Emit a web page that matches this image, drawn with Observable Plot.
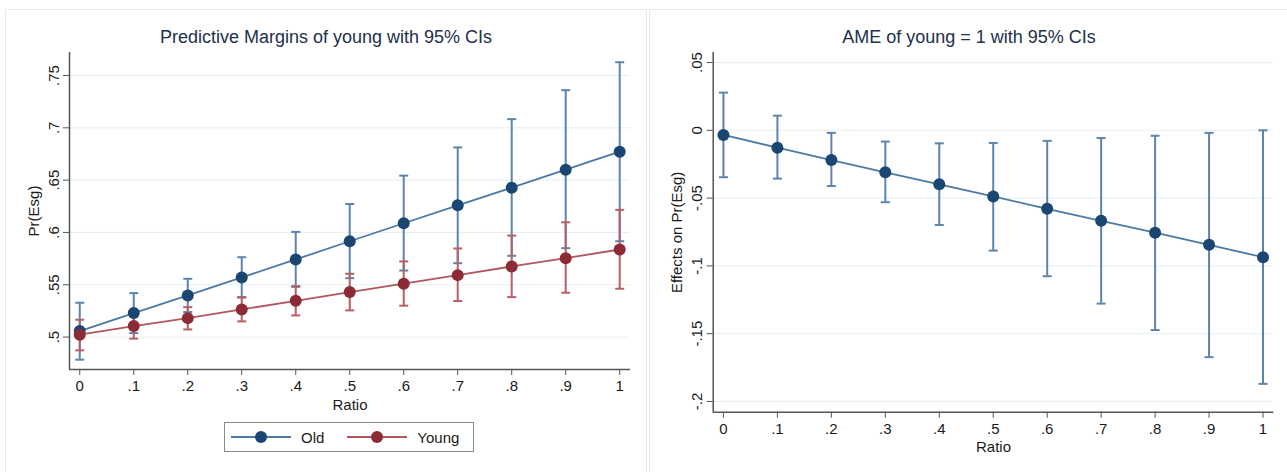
<!DOCTYPE html>
<html>
<head>
<meta charset="utf-8">
<script src="https://cdn.jsdelivr.net/npm/d3@7"></script>
<script src="https://cdn.jsdelivr.net/npm/@observablehq/plot@0.6"></script>
<style>
  html, body { margin: 0; padding: 0; background: #fff; }
  #root { position: relative; width: 1287px; height: 472px; overflow: hidden; background: #fff;
          font-family: "Liberation Sans", Arial, sans-serif; }
  .panel { position: absolute; border: 1px solid #e3e9ec; background: #fff; }
  .title { position: absolute; font-size: 18px; color: #22304c; white-space: nowrap; transform: translateX(-50%); }
  .chart { position: absolute; top: 0; }
  .legend { position: absolute; border: 1.5px solid #8a8a8a; box-sizing: border-box; display: flex; align-items: center;
            font-size: 15px; color: #1a1a1a; background: #fff; }
  .legend .item { display: flex; align-items: center; }
  .legend svg { display: block; }
</style>
</head>
<body>
<div id="root"></div>
<script>
// ---- data ----
const ratio = [0, 0.1, 0.2, 0.3, 0.4, 0.5, 0.6, 0.7, 0.8, 0.9, 1];

const oldMargin = [0.5057, 0.5229, 0.5398, 0.5570, 0.5742, 0.5916, 0.6088, 0.6259, 0.6428, 0.6600, 0.6772];
const oldHi     = [0.5328, 0.5420, 0.5557, 0.5763, 0.6005, 0.6272, 0.6543, 0.6813, 0.7083, 0.7360, 0.7627];
const oldLo     = [0.4784, 0.5038, 0.5239, 0.5377, 0.5480, 0.5563, 0.5636, 0.5706, 0.5777, 0.5850, 0.5916];

const youngMargin = [0.5023, 0.5105, 0.5181, 0.5264, 0.5347, 0.5430, 0.5510, 0.5592, 0.5675, 0.5754, 0.5837];
const youngHi     = [0.5166, 0.5225, 0.5286, 0.5382, 0.5487, 0.5605, 0.5723, 0.5847, 0.5970, 0.6097, 0.6216];
const youngLo     = [0.4873, 0.4985, 0.5073, 0.5150, 0.5207, 0.5255, 0.5300, 0.5344, 0.5382, 0.5424, 0.5462];

const ame   = [-0.0034, -0.0128, -0.0219, -0.0310, -0.0398, -0.0488, -0.0579, -0.0667, -0.0755, -0.0844, -0.0936];
const ameHi = [ 0.0278,  0.0108, -0.0019, -0.0083, -0.0096, -0.0093, -0.0078, -0.0057, -0.0040, -0.0019,  0.0000];
const ameLo = [-0.0346, -0.0356, -0.0411, -0.0530, -0.0698, -0.0887, -0.1076, -0.1278, -0.1473, -0.1673, -0.1870];

const xTicks = [0, 0.1, 0.2, 0.3, 0.4, 0.5, 0.6, 0.7, 0.8, 0.9, 1];
const leftYTicks = [0.5, 0.55, 0.6, 0.65, 0.7, 0.75];
const rightYTicks = [-0.2, -0.15, -0.1, -0.05, 0, 0.05];

const leftTitle = "Predictive Margins of young with 95% CIs";
const rightTitle = "AME of young = 1 with 95% CIs";
const xLabel = "Ratio";
const leftYLabel = "Pr(Esg)";
const rightYLabel = "Effects on Pr(Esg)";
const seriesNames = ["Old", "Young"];

// ---- styles ----
const FONT = '"Liberation Sans", Arial, sans-serif';
const BLUE_DOT = "#1a4672", BLUE_LINE = "#4d79a2", BLUE_CI = "#5c85ab";
const RED_DOT = "#8c2b36", RED_LINE = "#b0565e", RED_CI = "#b65f66";
const AXIS = "#555", GRID = "#e6eff1", TXT = "#1a1a1a";

const fmt = d => {
  if (Math.abs(d) < 1e-9) return "0";
  const s = String(+d.toFixed(4));
  return s.replace(/^(-?)0\./, "$1.");
};

const tbl = (x, m, lo, hi) => x.map((v, i) => ({x: v, m: m[i], lo: lo[i], hi: hi[i]}));
const oldData = tbl(ratio, oldMargin, oldLo, oldHi);
const youngData = tbl(ratio, youngMargin, youngLo, youngHi);
const ameData = tbl(ratio, ame, ameLo, ameHi);

// horizontal cap symbol
const capSymbol = { draw(ctx, size) { const w = Math.sqrt(size / Math.PI); ctx.moveTo(-w, 0); ctx.lineTo(w, 0); } };

function ciMarks(data, color) {
  return [
    Plot.ruleX(data, {x: "x", y1: "lo", y2: "hi", stroke: color, strokeWidth: 2}),
    Plot.dot(data, {x: "x", y: "lo", symbol: capSymbol, r: 4.5, stroke: color, strokeWidth: 2, fill: "none"}),
    Plot.dot(data, {x: "x", y: "hi", symbol: capSymbol, r: 4.5, stroke: color, strokeWidth: 2, fill: "none"})
  ];
}
function lineMarks(data, lineColor, dotColor) {
  return [
    Plot.line(data, {x: "x", y: "m", stroke: lineColor, strokeWidth: 1.8}),
    Plot.dot(data, {x: "x", y: "m", r: 6, fill: dotColor, stroke: "none"})
  ];
}

function frameMarks(xDomain, yDomain, yTicks, yLabel, yLabelDx, xLabelDy) {
  return [
    Plot.gridY(yTicks, {stroke: GRID, strokeOpacity: 1, strokeWidth: 1}),
    Plot.ruleX([xDomain[0]], {stroke: AXIS, strokeWidth: 1.5}),
    Plot.ruleY([yDomain[0]], {stroke: AXIS, strokeWidth: 1.5}),
    Plot.axisX(xTicks, {tickSize: 6, tickPadding: 5, tickFormat: fmt, stroke: AXIS, fill: TXT, fontSize: 15, label: null}),
    Plot.axisY(yTicks, {tickSize: 6, tickFormat: () => "", stroke: AXIS, label: null}),
    Plot.text(yTicks, {y: d => d, frameAnchor: "left", dx: -11, rotate: -90, text: fmt,
                       textAnchor: "middle", lineAnchor: "bottom", fontSize: 15, fill: TXT}),
    Plot.text([yLabel], {frameAnchor: "left", dx: yLabelDx, rotate: -90, text: d => d,
                         textAnchor: "middle", lineAnchor: "middle", fontSize: 15, fill: TXT}),
    Plot.text([xLabel], {frameAnchor: "bottom", dy: xLabelDy, text: d => d,
                         textAnchor: "middle", lineAnchor: "middle", fontSize: 15, fill: TXT})
  ];
}

const root = document.getElementById("root");
function add(el, css) { Object.assign(el.style, css); root.appendChild(el); return el; }
function div(cls, css, text) { const d = document.createElement("div"); d.className = cls; if (text) d.textContent = text; return add(d, css); }

// panel frames
div("panel", {left: "5px", top: "9px", width: "640px", height: "500px"});
div("panel", {left: "649px", top: "9px", width: "700px", height: "500px"});

// left chart
const xDom = [-0.019, 1.02];
const leftYDom = [0.469, 0.772];
const left = Plot.plot({
  width: 645, height: 472,
  marginLeft: 69, marginRight: 15, marginTop: 52, marginBottom: 103,
  x: {domain: xDom}, y: {domain: leftYDom},
  style: {background: "transparent", fontFamily: FONT},
  marks: [
    ...frameMarks(xDom, leftYDom, leftYTicks, leftYLabel, -35, 36),
    ...ciMarks(oldData, BLUE_CI),
    ...ciMarks(youngData, RED_CI),
    ...lineMarks(oldData, BLUE_LINE, BLUE_DOT),
    ...lineMarks(youngData, RED_LINE, RED_DOT)
  ]
});
left.classList.add("chart");
add(left, {left: "0px"});

// right chart
const rightYDom = [-0.2079, 0.0574];
const right = Plot.plot({
  width: 638, height: 472,
  marginLeft: 63.7, marginRight: 13.7, marginTop: 52, marginBottom: 60.3,
  x: {domain: xDom}, y: {domain: rightYDom},
  style: {background: "transparent", fontFamily: FONT},
  marks: [
    ...frameMarks(xDom, rightYDom, rightYTicks, rightYLabel, -36, 35),
    ...ciMarks(ameData, BLUE_CI),
    ...lineMarks(ameData, BLUE_LINE, BLUE_DOT)
  ]
});
right.classList.add("chart");
add(right, {left: "649px"});

// titles
div("title", {left: "326px", top: "27px"}, leftTitle);
div("title", {left: "969px", top: "27px"}, rightTitle);

// legend
const lg = div("legend", {left: "224px", top: "422px", width: "250px", height: "30px"});
function legendItem(name, lineColor, dotColor, padLeft, gap) {
  const it = document.createElement("div"); it.className = "item"; it.style.marginLeft = padLeft + "px";
  const ns = "http://www.w3.org/2000/svg";
  const svg = document.createElementNS(ns, "svg"); svg.setAttribute("width", 60); svg.setAttribute("height", 14);
  const ln = document.createElementNS(ns, "line");
  ln.setAttribute("x1", 0); ln.setAttribute("x2", 60); ln.setAttribute("y1", 7); ln.setAttribute("y2", 7);
  ln.setAttribute("stroke", lineColor); ln.setAttribute("stroke-width", 1.8);
  const c = document.createElementNS(ns, "circle"); c.setAttribute("cx", 30); c.setAttribute("cy", 7); c.setAttribute("r", 6); c.setAttribute("fill", dotColor);
  svg.appendChild(ln); svg.appendChild(c);
  const t = document.createElement("span"); t.textContent = name; t.style.marginLeft = gap + "px";
  it.appendChild(svg); it.appendChild(t); lg.appendChild(it);
}
legendItem(seriesNames[0], BLUE_LINE, BLUE_DOT, 6, 10);
legendItem(seriesNames[1], RED_LINE, RED_DOT, 23, 10);
</script>
</body>
</html>
